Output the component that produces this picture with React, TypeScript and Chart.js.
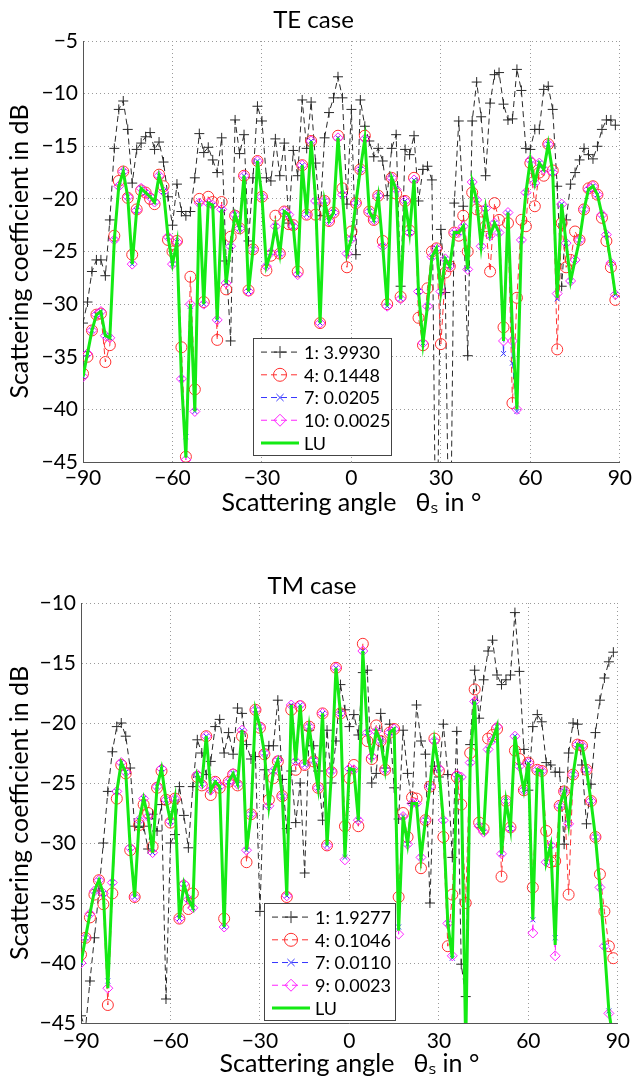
import React, { useEffect, useRef } from 'react';
import { Chart, registerables } from 'chart.js';

Chart.register(...registerables);

// Sampling grid of scattering angles (degrees), step 1.5
const ANGLES: number[] = Array.from({ length: 120 }, (_, i) => -90 + 1.5 * i);

const X_TICKS = [-90, -60, -30, 0, 30, 60, 90];
const TE_Y_TICKS = [-45, -40, -35, -30, -25, -20, -15, -10, -5];
const TM_Y_TICKS = [-45, -40, -35, -30, -25, -20, -15, -10];

const TE_LABELS = ['1: 3.9930', '4: 0.1448', '7: 0.0205', '10: 0.0025', 'LU'];
const TM_LABELS = ['1: 1.9277', '4: 0.1046', '7: 0.0110', '9: 0.0023', 'LU'];

// ---------------- TE case ----------------
const TE_IT1 = [
  -31.8, -29.8, -26.9, -25.8, -25.8, -27.3, -22.0, -15.2, -11.5, -10.7,
  -13.4, -18.5, -15.3, -14.7, -14.1, -13.7, -15.3, -14.6, -16.5, -19.8,
  -22.5, -18.6, -21.2, -21.6, -21.2, -18.0, -13.8, -15.6, -15.1, -16.3,
  -17.5, -14.2, -25.9, -33.5, -12.5, -15.7, -13.9, -24.0, -18.0, -11.2,
  -12.6, -18.0, -18.3, -14.3, -17.8, -14.7, -22.3, -15.4, -17.8, -10.6,
  -15.2, -10.8, -16.6, -21.6, -14.2, -11.8, -10.4, -8.4, -10.4, -20.5,
  -11.5, -25.3, -10.6, -13.1, -14.5, -16.0, -15.2, -16.4, -19.7, -15.2,
  -13.9, -28.3, -15.3, -15.8, -14.0, -20.2, -17.2, -16.9, -18.2, -60.0,
  -22.9, -28.9, -60.0, -20.4, -12.6, -20.7, -34.9, -12.6, -8.9, -12.2,
  -17.8, -10.9, -8.2, -8.0, -11.0, -12.5, -12.4, -7.7, -9.7, -15.2,
  -15.3, -13.4, -13.4, -9.6, -9.3, -11.5, -18.8, -28.3, -22.0, -18.6,
  -17.5, -16.3, -15.2, -15.8, -16.2, -15.0, -13.4, -12.5, -12.5, -13.0,
];
const TE_IT4 = [
  -36.6, -35.0, -32.5, -31.0, -30.9, -35.5, -33.9, -23.5, -18.3, -17.4,
  -19.9, -25.3, -21.0, -19.2, -19.4, -20.0, -20.5, -17.7, -18.8, -23.9,
  -25.0, -24.0, -34.1, -44.5, -27.4, -38.1, -20.0, -29.8, -19.8, -20.3,
  -33.4, -20.3, -28.6, -23.6, -21.6, -22.8, -17.8, -28.7, -24.8, -16.4,
  -19.8, -26.8, -25.4, -21.6, -25.2, -21.2, -22.4, -22.5, -26.9, -16.8,
  -21.5, -14.5, -21.5, -31.8, -20.2, -22.1, -21.3, -14.0, -19.0, -26.5,
  -23.1, -20.4, -17.2, -14.0, -21.2, -22.0, -19.7, -24.0, -30.0, -18.0,
  -19.5, -29.3, -20.2, -23.0, -18.0, -31.3, -33.9, -28.5, -25.0, -24.7,
  -33.8, -27.0, -26.4, -23.2, -23.5, -21.6, -25.0, -19.4, -21.0, -21.2,
  -22.6, -26.9, -20.4, -22.0, -32.2, -22.3, -39.4, -29.4, -22.0, -22.6,
  -16.6, -20.7, -17.5, -17.8, -14.8, -17.3, -34.3, -22.3, -26.5, -25.8,
  -23.1, -23.9, -21.0, -19.0, -18.8, -19.6, -21.8, -24.0, -26.5, -29.6,
];
const TE_IT7 = [
  -36.9, -34.7, -32.5, -31.0, -30.7, -33.0, -33.2, -23.9, -18.8, -17.4,
  -19.8, -26.2, -21.1, -19.0, -19.4, -19.8, -20.3, -17.8, -19.3, -23.6,
  -26.2, -24.1, -37.1, -42.6, -30.2, -40.2, -20.4, -30.0, -20.4, -20.6,
  -31.5, -21.0, -28.0, -24.5, -21.5, -22.8, -17.8, -28.8, -24.8, -16.4,
  -19.8, -26.4, -25.1, -22.6, -25.2, -21.2, -21.5, -22.6, -27.2, -16.8,
  -21.5, -14.5, -20.2, -31.8, -20.2, -22.1, -21.3, -14.2, -19.6, -25.2,
  -23.8, -20.4, -17.2, -14.3, -21.2, -22.0, -19.7, -24.5, -30.2, -18.0,
  -19.1, -29.5, -20.2, -23.2, -18.2, -28.8, -33.7, -30.2, -25.5, -24.7,
  -28.8, -25.7, -26.4, -23.2, -23.2, -22.6, -26.7, -18.4, -20.1, -24.5,
  -20.9, -23.5, -22.3, -23.2, -34.7, -21.3, -35.6, -40.2, -23.9, -19.4,
  -16.3, -18.5, -16.6, -17.2, -14.8, -17.5, -29.5, -20.5, -24.2, -27.8,
  -25.8, -23.9, -21.0, -19.1, -18.8, -19.6, -21.5, -23.4, -26.1, -29.1,
];
const TE_IT10 = [
  -36.9, -34.7, -32.5, -31.0, -30.7, -33.0, -33.2, -23.9, -18.8, -17.4,
  -19.8, -26.2, -21.1, -19.0, -19.4, -19.8, -20.3, -17.8, -19.3, -23.6,
  -26.2, -24.1, -37.1, -44.8, -30.0, -40.2, -20.4, -30.0, -20.4, -20.6,
  -31.5, -21.0, -28.0, -24.5, -21.5, -22.8, -17.8, -28.8, -24.8, -16.4,
  -19.8, -26.4, -25.1, -22.6, -25.2, -21.2, -21.5, -22.6, -27.2, -16.8,
  -21.5, -14.5, -20.2, -31.8, -20.2, -22.1, -21.3, -14.2, -19.6, -25.2,
  -23.8, -20.4, -17.2, -14.3, -21.2, -22.0, -19.7, -24.5, -30.2, -18.0,
  -19.1, -29.5, -20.2, -23.2, -18.2, -28.8, -33.7, -30.2, -25.5, -24.7,
  -28.8, -25.7, -26.4, -23.2, -23.2, -22.6, -26.7, -18.4, -20.1, -24.5,
  -20.9, -23.5, -22.3, -23.2, -33.5, -21.3, -33.5, -40.0, -23.9, -19.4,
  -16.3, -18.5, -16.6, -17.2, -14.8, -17.5, -29.0, -20.5, -24.2, -27.8,
  -25.8, -23.9, -21.0, -19.1, -18.8, -19.6, -21.5, -23.4, -26.1, -29.1,
];
const TE_LU = [
  -36.9, -34.7, -32.5, -31.0, -30.7, -33.0, -33.2, -23.9, -18.8, -17.4,
  -19.8, -26.2, -21.1, -19.0, -19.4, -19.8, -20.3, -17.8, -19.3, -23.6,
  -26.2, -24.1, -37.1, -44.6, -30.0, -40.2, -20.4, -30.0, -20.4, -20.6,
  -31.5, -21.0, -28.0, -24.5, -21.5, -22.8, -17.8, -28.8, -24.8, -16.4,
  -19.8, -26.4, -25.1, -22.6, -25.2, -21.2, -21.5, -22.6, -27.2, -16.8,
  -21.5, -14.5, -20.2, -31.8, -20.2, -22.1, -21.3, -14.2, -19.6, -25.2,
  -23.8, -20.4, -17.2, -14.3, -21.2, -22.0, -19.7, -24.5, -30.2, -18.0,
  -19.1, -29.5, -20.2, -23.2, -18.2, -28.8, -33.7, -30.2, -25.5, -24.7,
  -28.8, -25.7, -26.4, -23.2, -23.2, -22.6, -26.7, -18.4, -20.1, -24.5,
  -20.9, -23.5, -22.3, -23.2, -33.5, -21.3, -32.5, -40.0, -23.9, -19.4,
  -16.3, -18.5, -16.6, -17.2, -14.8, -17.5, -29.4, -20.5, -24.2, -27.8,
  -25.8, -23.9, -21.0, -19.1, -18.8, -19.6, -21.5, -23.4, -26.1, -29.1,
];

// ---------------- TM case ----------------
const TM_IT1 = [
  -44.4, -45.5, -41.5, -37.9, -34.0, -30.0, -25.7, -22.4, -20.3, -20.0,
  -21.1, -23.75, -28.6, -28.7, -28.6, -30.5, -27.6, -29.0, -26.8, -43.0,
  -30.0, -29.3, -25.3, -27.7, -30.4, -25.3, -21.4, -22.5, -24.3, -23.2,
  -20.3, -19.7, -22.5, -20.8, -22.6, -18.75, -19.2, -21.8, -23.0, -22.8,
  -35.7, -23.9, -21.9, -21.9, -18.1, -24.7, -28.8, -24.0, -28.3, -25.0,
  -32.5, -20.6, -21.9, -24.0, -28.1, -20.6, -25.0, -21.5, -16.8, -18.9,
  -20.3, -19.3, -21.0, -15.8, -15.6, -25.0, -24.2, -19.2, -23.75, -20.1,
  -25.4, -28.0, -20.6, -24.2, -26.7, -18.5, -21.5, -22.6, -35.0, -23.6,
  -24.5, -20.1, -24.3, -31.2, -20.7, -40.1, -42.8, -21.8, -15.6, -19.6,
  -16.4, -14.0, -13.1, -16.0, -16.8, -16.4, -16.0, -10.8, -15.7, -22.2,
  -25.6, -20.3, -19.3, -19.9, -23.3, -23.5, -24.1, -24.1, -30.1, -22.5,
  -20.0, -20.1, -23.5, -28.4, -25.1, -20.8, -18.1, -16.25, -14.9, -14.1,
];
const TM_IT4 = [
  -39.3, -37.9, -36.2, -34.3, -33.1, -35.1, -43.5, -34.2, -26.3, -23.5,
  -24.2, -30.6, -34.5, -28.5, -26.8, -27.5, -30.3, -25.4, -24.0, -26.4,
  -28.3, -26.3, -36.3, -33.6, -35.5, -34.2, -24.5, -25.2, -21.1, -26.0,
  -24.9, -25.4, -36.3, -24.9, -24.3, -25.2, -21.1, -31.6, -27.6, -18.9,
  -20.4, -22.6, -26.4, -24.6, -23.2, -26.1, -34.5, -18.9, -23.9, -18.6,
  -23.5, -20.3, -23.2, -25.4, -19.2, -30.2, -24.1, -15.4, -19.2, -28.6,
  -24.6, -23.5, -28.6, -13.4, -21.5, -23.0, -20.2, -21.5, -23.9, -20.8,
  -20.5, -34.5, -27.5, -29.5, -26.2, -26.3, -32.1, -28.1, -25.3, -21.3,
  -24.0, -29.5, -38.6, -34.3, -24.5, -26.8, -35.0, -22.5, -17.2, -28.3,
  -28.8, -21.3, -21.0, -20.5, -32.8, -26.5, -28.7, -22.3, -23.0, -25.6,
  -23.3, -33.7, -23.9, -24.0, -29.0, -31.6, -31.5, -26.9, -25.7, -34.3,
  -24.3, -21.8, -21.9, -23.9, -26.5, -29.5, -32.6, -35.7, -38.6, -39.6,
];
const TM_IT7 = [
  -40.0, -37.9, -35.9, -34.0, -33.1, -34.2, -41.5, -33.3, -25.7, -23.3,
  -24.1, -30.4, -34.5, -28.1, -26.3, -27.8, -30.8, -25.3, -23.8, -26.4,
  -28.2, -26.3, -36.3, -33.4, -34.7, -35.4, -24.3, -25.1, -21.1, -25.6,
  -24.9, -25.3, -37.0, -24.9, -24.2, -25.1, -20.6, -30.6, -27.6, -18.9,
  -20.3, -22.5, -26.9, -24.0, -23.1, -26.1, -34.4, -18.5, -23.2, -18.5,
  -23.5, -20.3, -23.1, -25.4, -19.2, -30.2, -24.0, -15.4, -19.2, -31.2,
  -23.8, -23.9, -28.1, -14.0, -20.8, -22.8, -20.7, -21.5, -23.9, -20.8,
  -20.5, -37.0, -27.8, -30.1, -26.7, -26.7, -31.2, -28.1, -25.3, -21.5,
  -23.8, -28.1, -36.7, -39.6, -24.3, -24.5, -47.0, -23.3, -18.2, -28.6,
  -29.1, -22.2, -21.4, -20.3, -30.9, -26.5, -28.8, -21.1, -23.6, -25.6,
  -23.3, -36.4, -23.9, -24.0, -31.6, -30.2, -37.9, -26.9, -25.7, -28.4,
  -24.3, -21.8, -21.9, -23.9, -26.5, -29.5, -33.7, -38.6, -44.0, -46.5,
];
const TM_IT9 = [
  -40.0, -37.9, -35.9, -34.0, -33.1, -34.2, -42.1, -33.3, -25.7, -23.3,
  -24.1, -30.4, -34.5, -28.1, -26.3, -27.8, -30.8, -25.3, -23.8, -26.4,
  -28.2, -26.3, -36.3, -33.4, -34.7, -35.4, -24.3, -25.1, -21.1, -25.6,
  -24.9, -25.3, -37.0, -24.9, -24.2, -25.1, -20.6, -30.6, -27.6, -18.9,
  -20.3, -22.5, -26.9, -24.0, -23.1, -26.1, -34.4, -18.5, -23.2, -18.5,
  -23.5, -20.3, -23.1, -25.4, -19.2, -30.2, -24.0, -15.4, -19.2, -31.4,
  -23.8, -23.9, -28.1, -14.0, -20.8, -22.8, -20.7, -21.5, -23.9, -20.8,
  -20.5, -37.6, -27.8, -30.1, -26.7, -26.7, -31.2, -28.1, -25.3, -21.5,
  -23.8, -28.1, -36.7, -39.4, -24.3, -24.5, -47.0, -23.3, -18.2, -28.6,
  -29.1, -22.2, -21.4, -20.3, -30.9, -26.5, -28.8, -21.1, -23.6, -25.6,
  -23.3, -37.5, -23.9, -24.0, -31.6, -30.2, -39.4, -26.9, -25.7, -28.4,
  -24.3, -21.8, -21.9, -23.9, -26.5, -29.5, -33.7, -38.6, -44.2, -46.5,
];
const TM_LU = [
  -40.0, -37.9, -35.9, -34.0, -33.1, -34.2, -42.1, -33.3, -25.7, -23.3,
  -24.1, -30.4, -34.5, -28.1, -26.3, -27.8, -30.8, -25.3, -23.8, -26.4,
  -28.2, -26.3, -36.3, -33.4, -34.7, -35.4, -24.3, -25.1, -21.1, -25.6,
  -24.9, -25.3, -37.0, -24.9, -24.2, -25.1, -20.6, -30.6, -27.6, -18.9,
  -20.3, -22.5, -26.9, -24.0, -23.1, -26.1, -34.4, -18.5, -23.2, -18.5,
  -23.5, -20.3, -23.1, -25.4, -19.2, -30.2, -24.0, -15.4, -19.2, -31.2,
  -23.8, -23.9, -28.1, -14.0, -20.8, -22.8, -20.7, -21.5, -23.9, -20.8,
  -20.5, -37.3, -27.8, -30.1, -26.7, -26.7, -31.2, -28.1, -25.3, -21.5,
  -23.8, -28.1, -36.7, -39.6, -24.3, -24.5, -47.0, -23.3, -18.2, -28.6,
  -29.1, -22.2, -21.4, -20.3, -30.9, -26.5, -28.8, -21.1, -23.6, -25.6,
  -23.3, -36.4, -23.9, -24.0, -31.6, -30.2, -38.5, -26.9, -25.7, -28.4,
  -24.3, -21.8, -21.9, -23.9, -26.5, -29.5, -33.7, -38.6, -44.0, -46.5,
];

const FONT = 'Lato, "Open Sans", "DejaVu Sans", sans-serif';

const STYLES = [
  { color: '#2a2a2a', point: 'cross', radius: 5, width: 1, dash: [6, 4], order: 4 },
  { color: '#ff3030', point: 'circle', radius: 5.5, width: 1, dash: [6, 4], order: 3 },
  { color: '#3535ff', point: 'crossRot', radius: 3.5, width: 1, dash: [6, 4], order: 2 },
  { color: '#ff22ff', point: 'rectRot', radius: 5, width: 1, dash: [6, 4], order: 1 },
  { color: '#14ea14', point: false, radius: 0, width: 3, dash: [], order: 0 },
];

function drawMarker(ctx: CanvasRenderingContext2D, style: any, cx: number, cy: number, r: number) {
  ctx.beginPath();
  if (style === 'cross') {
    ctx.moveTo(cx - r, cy); ctx.lineTo(cx + r, cy);
    ctx.moveTo(cx, cy - r); ctx.lineTo(cx, cy + r);
  } else if (style === 'crossRot') {
    const d = r * 0.8;
    ctx.moveTo(cx - d, cy - d); ctx.lineTo(cx + d, cy + d);
    ctx.moveTo(cx - d, cy + d); ctx.lineTo(cx + d, cy - d);
  } else if (style === 'circle') {
    ctx.arc(cx, cy, r, 0, Math.PI * 2);
  } else if (style === 'rectRot') {
    ctx.moveTo(cx, cy - r); ctx.lineTo(cx + r, cy); ctx.lineTo(cx, cy + r); ctx.lineTo(cx - r, cy); ctx.closePath();
  }
  ctx.stroke();
}

const boxLegend = {
  id: 'boxLegend',
  afterDatasetsDraw(chart: any, _args: any, opts: any) {
    if (!opts || !opts.box) return;
    const { ctx } = chart;
    const { x, y, w, h } = opts.box;
    ctx.save();
    ctx.fillStyle = '#ffffff';
    ctx.fillRect(x, y, w, h);
    ctx.strokeStyle = '#444';
    ctx.lineWidth = 1;
    ctx.setLineDash([]);
    ctx.strokeRect(x + 0.5, y + 0.5, w, h);
    const rowH = h / 5.15;
    chart.data.datasets.forEach((ds: any, i: number) => {
      const cy = y + rowH * 0.62 + i * rowH;
      const st = STYLES[i];
      ctx.strokeStyle = ds.borderColor;
      ctx.lineWidth = st.width;
      ctx.setLineDash(st.dash);
      ctx.beginPath();
      ctx.moveTo(x + 8, cy);
      ctx.lineTo(x + 46, cy);
      ctx.stroke();
      ctx.setLineDash([]);
      ctx.lineWidth = 1;
      if (st.point) {
        drawMarker(ctx, st.point, x + 27, cy, st.radius + 1);
      }
      ctx.fillStyle = '#000';
      ctx.font = `18px ${FONT}`;
      ctx.textBaseline = 'middle';
      ctx.textAlign = 'left';
      ctx.fillText(ds.label, x + 51, cy + 1);
    });
    ctx.restore();
  },
};

function makeConfig(p: any) {
  const series = [p.s1, p.s4, p.s7, p.s10, p.lu];
  const datasets = series.map((arr: number[], i: number) => {
    const st = STYLES[i];
    return {
      label: p.labels[i],
      data: ANGLES.map((a, k) => ({ x: a, y: arr[k] })),
      borderColor: st.color,
      backgroundColor: 'transparent',
      borderWidth: st.width,
      borderDash: st.dash,
      pointStyle: st.point,
      pointRadius: st.radius,
      pointHoverRadius: st.radius,
      pointBorderColor: st.color,
      pointBackgroundColor: 'transparent',
      pointBorderWidth: 1,
      tension: 0,
      fill: false,
      order: st.order,
    };
  });
  const tickFmt = (v: any) => (v < 0 ? '\u2212' + Math.abs(v) : String(v));
  return {
    type: 'line',
    data: { datasets },
    plugins: [boxLegend],
    options: {
      animation: false,
      responsive: false,
      maintainAspectRatio: false,
      layout: { padding: { left: 0, right: p.padRight, top: 0, bottom: 0 } },
      plugins: {
        legend: { display: false },
        tooltip: { enabled: false },
        title: {
          display: true,
          text: p.title,
          color: '#000',
          font: { family: FONT, size: 24, weight: 'normal', lineHeight: 1.2 },
          padding: { top: p.titleTop, bottom: p.titleBottom },
        },
        boxLegend: { box: p.legendBox },
      },
      scales: {
        x: {
          type: 'linear',
          min: -90,
          max: 90,
          afterBuildTicks: (s: any) => { s.ticks = X_TICKS.map((v) => ({ value: v })); },
          afterFit: (s: any) => { s.height = p.xAxisH; },
          ticks: { color: '#000', font: { family: FONT, size: 21 }, padding: p.xTickPad, callback: tickFmt, maxRotation: 0, autoSkip: false },
          grid: { color: '#9a9a9a', lineWidth: 1, drawTicks: false },
          border: { display: true, color: '#555', width: 1, dash: [1, 3] },
          title: {
            display: true,
            text: 'Scattering angle   \u03B8\u209B in \u00B0',
            color: '#000',
            font: { family: FONT, size: 25, lineHeight: 1.2 },
            padding: { top: 0, bottom: p.xTitleBottom },
          },
        },
        y: {
          type: 'linear',
          min: p.yTicks[0],
          max: p.yTicks[p.yTicks.length - 1],
          afterBuildTicks: (s: any) => { s.ticks = p.yTicks.map((v: number) => ({ value: v })); },
          afterFit: (s: any) => { s.width = p.yAxisW; },
          ticks: { color: '#000', font: { family: FONT, size: 21 }, padding: 5, callback: tickFmt, autoSkip: false },
          grid: { color: '#9a9a9a', lineWidth: 1, drawTicks: false },
          border: { display: true, color: '#555', width: 1, dash: [1, 3] },
          title: {
            display: true,
            text: 'Scattering coefficient in dB',
            color: '#000',
            font: { family: FONT, size: 25, lineHeight: 1.2 },
            padding: { top: 5, bottom: 0 },
          },
        },
      },
    },
  };
}

function ChartCanvas({ cfg, width, height }: { cfg: any; width: number; height: number }) {
  const ref = useRef<HTMLCanvasElement | null>(null);
  useEffect(() => {
    if (!ref.current) return;
    const chart = new Chart(ref.current, makeConfig(cfg) as any);
    return () => chart.destroy();
  }, []);
  return <canvas ref={ref} width={width} height={height} style={{ display: 'block', width, height }} />;
}

const TE_CFG = {
  title: 'TE case', labels: TE_LABELS, s1: TE_IT1, s4: TE_IT4, s7: TE_IT7, s10: TE_IT10, lu: TE_LU,
  yTicks: TE_Y_TICKS, yAxisW: 83, xAxisH: 78, padRight: 9, titleTop: 5.6, titleBottom: 6.6,
  xTitleBottom: 22, xTickPad: 4,
  legendBox: { x: 253, y: 338, w: 138, h: 117 },
};
const TM_CFG = {
  title: 'TM case', labels: TM_LABELS, s1: TM_IT1, s4: TM_IT4, s7: TM_IT7, s10: TM_IT9, lu: TM_LU,
  yTicks: TM_Y_TICKS, yAxisW: 81, xAxisH: 61, padRight: 12, titleTop: 32, titleBottom: 2.2,
  xTitleBottom: 5, xTickPad: 6,
  legendBox: { x: 264, y: 363, w: 131, h: 117 },
};

export default function App() {
  return (
    <div style={{ position: 'absolute', left: 0, top: 0, width: 636, height: 1084, background: '#fff' }}>
      <ChartCanvas cfg={TE_CFG} width={636} height={540} />
      <ChartCanvas cfg={TM_CFG} width={636} height={544} />
    </div>
  );
}
